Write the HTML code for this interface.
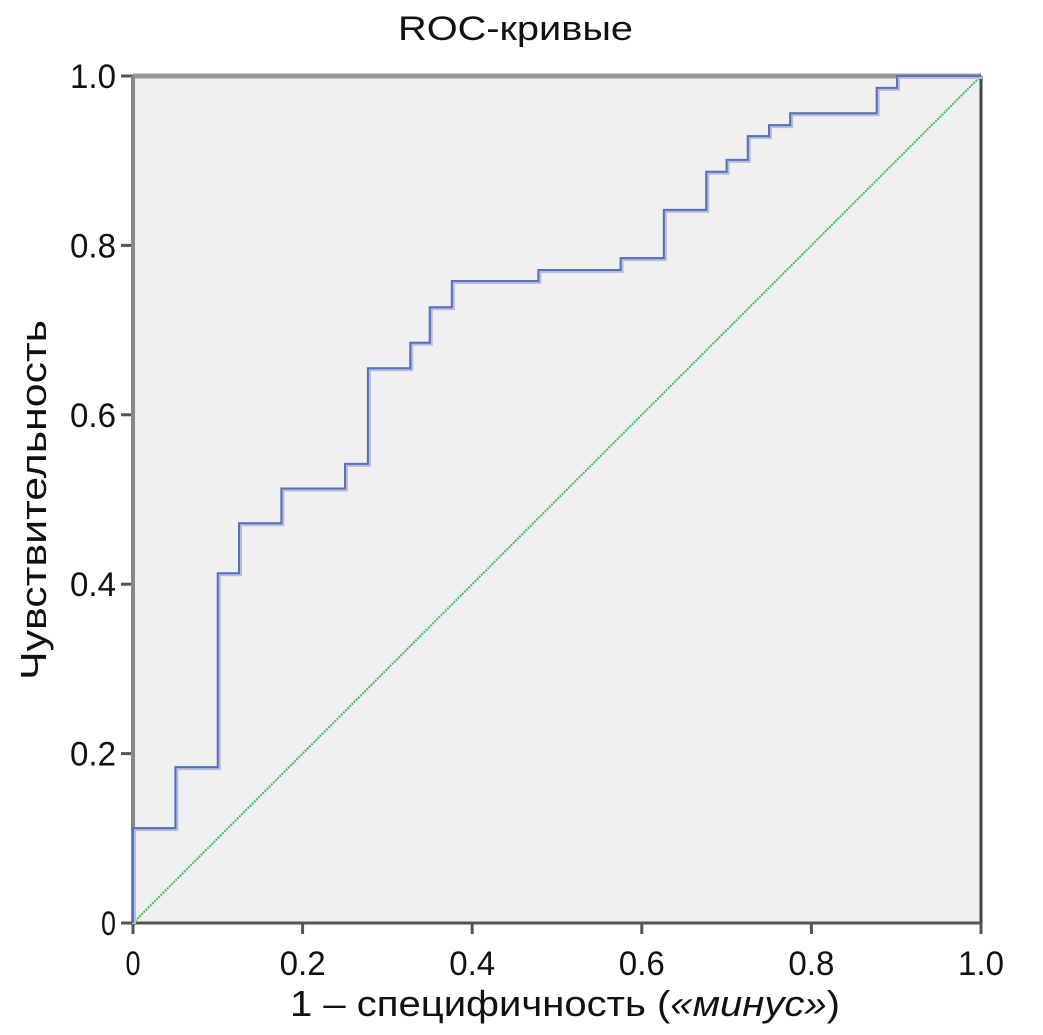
<!DOCTYPE html>
<html><head><meta charset="utf-8"><style>
html,body{margin:0;padding:0;background:#fff;}
svg{display:block;font-family:"Liberation Sans","DejaVu Sans",sans-serif;}
</style></head><body>
<svg id="chart" width="1043" height="1035" viewBox="0 0 1043 1035">
<text x="398" y="40" font-size="34" textLength="235" lengthAdjust="spacingAndGlyphs" fill="#111">ROC-кривые</text>
<rect x="133" y="76" width="848" height="847" fill="#f0f0f0"/>
<g id="ticks"></g>
<line x1="133" y1="76" x2="981" y2="76" stroke="#999" stroke-width="5"/>
<line x1="981" y1="76" x2="981" y2="923" stroke="#444" stroke-width="3"/>
<line x1="133" y1="76" x2="133" y2="925" stroke="#888" stroke-width="4"/>
<line x1="131" y1="923" x2="981" y2="923" stroke="#555" stroke-width="3"/>
<g id="series"></g>
<text x="290" y="1016" font-size="36" textLength="550" lengthAdjust="spacingAndGlyphs" fill="#111">1 – специфичность (<tspan font-style="italic">«минус»</tspan>)</text>
<text transform="translate(46,680) rotate(-90)" font-size="36" textLength="360" lengthAdjust="spacingAndGlyphs" fill="#111">Чувствительность</text>
</svg>
<script>
const fprSteps = [0, 0.05, 0.1, 0.125, 0.175, 0.25, 0.277, 0.327, 0.35, 0.376, 0.478, 0.575, 0.626, 0.676, 0.70, 0.725, 0.75, 0.775, 0.877, 0.901];
const tprSteps = [0.112, 0.184, 0.413, 0.472, 0.513, 0.542, 0.655, 0.685, 0.727, 0.758, 0.771, 0.785, 0.842, 0.887, 0.901, 0.929, 0.942, 0.956, 0.986, 1.0];
const xTicks = [0, 0.2, 0.4, 0.6, 0.8, 1.0];
const xTickLabels = ["0", "0.2", "0.4", "0.6", "0.8", "1.0"];
const yTicks = [0, 0.2, 0.4, 0.6, 0.8, 1.0];
const yTickLabels = ["0", "0.2", "0.4", "0.6", "0.8", "1.0"];
const NS = "http://www.w3.org/2000/svg";
function sx(v){return 133 + v*848;}
function sy(v){return 923 - v*847;}
function lblW(s){return s.length===1?15:46;}
const ticks = document.getElementById('ticks');
xTicks.forEach((t,i)=>{
  const l=document.createElementNS(NS,'line');
  
  
  l.setAttribute('x1',sx(t));l.setAttribute('x2',sx(t));l.setAttribute('y1',923);l.setAttribute('y2',934);
  l.setAttribute('stroke','#555');l.setAttribute('stroke-width','3');ticks.appendChild(l);
  const tx=document.createElementNS(NS,'text');
  
  
  const w=lblW(xTickLabels[i]);
  tx.setAttribute('x',sx(t)-w/2);tx.setAttribute('y',975);tx.setAttribute('font-size','34');
  tx.setAttribute('textLength',w);tx.setAttribute('lengthAdjust','spacingAndGlyphs');
  tx.setAttribute('fill','#111');tx.textContent=xTickLabels[i];ticks.appendChild(tx);
});
yTicks.forEach((t,i)=>{
  const l=document.createElementNS(NS,'line');
  
  
  l.setAttribute('x1',121);l.setAttribute('x2',133);l.setAttribute('y1',sy(t));l.setAttribute('y2',sy(t));
  l.setAttribute('stroke','#555');l.setAttribute('stroke-width','3');ticks.appendChild(l);
  const tx=document.createElementNS(NS,'text');
  
  
  const w=lblW(yTickLabels[i]);
  tx.setAttribute('x',116-w);tx.setAttribute('y',sy(t)+12);tx.setAttribute('font-size','34');
  tx.setAttribute('textLength',w);tx.setAttribute('lengthAdjust','spacingAndGlyphs');
  tx.setAttribute('fill','#111');tx.textContent=yTickLabels[i];ticks.appendChild(tx);
});
const series=document.getElementById('series');
const ref=document.createElementNS(NS,'line');


ref.setAttribute('x1',sx(0));ref.setAttribute('y1',sy(0));ref.setAttribute('x2',sx(1));ref.setAttribute('y2',sy(1));
ref.setAttribute('stroke','#3cc060');ref.setAttribute('stroke-width','2');ref.setAttribute('stroke-dasharray','2 1');
series.appendChild(ref);
let d='M'+sx(0)+' '+sy(0);
let prevY=0;
fprSteps.forEach((f,i)=>{
  d+=' L'+sx(f)+' '+sy(prevY)+' L'+sx(f)+' '+sy(tprSteps[i]);
  prevY=tprSteps[i];
});
d+=' L'+sx(1)+' '+sy(prevY);
const halo=document.createElementNS(NS,'path');


halo.setAttribute('d',d);halo.setAttribute('fill','none');halo.setAttribute('stroke','#b4bedf');
halo.setAttribute('stroke-width','4');halo.setAttribute('transform','translate(1,1)');
series.appendChild(halo);
const p=document.createElementNS(NS,'path');


p.setAttribute('d',d);p.setAttribute('fill','none');p.setAttribute('stroke','#5a6fbb');p.setAttribute('stroke-width','2');
series.appendChild(p);
</script>
</body></html>
